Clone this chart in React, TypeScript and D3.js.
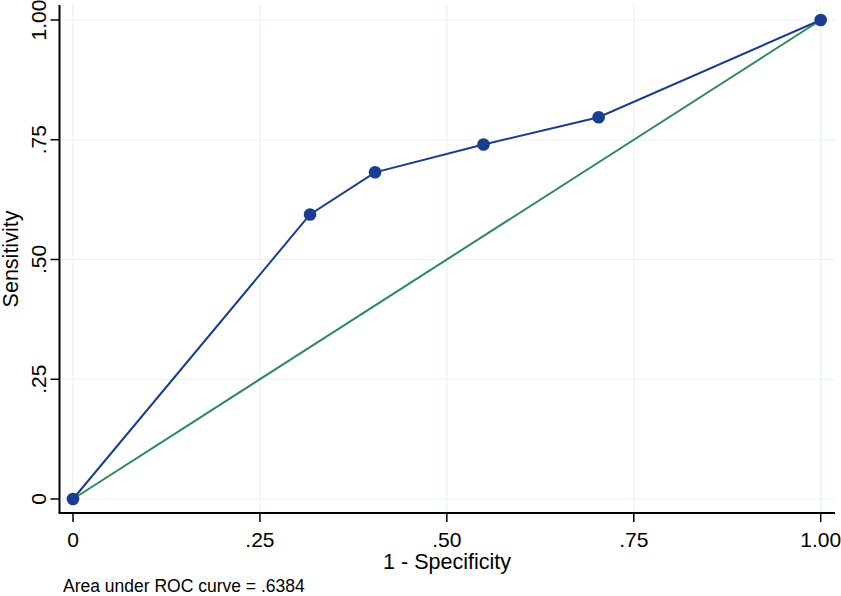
import React from "react";
import * as d3 from "d3";

const fpr: number[] = [0, 0.317, 0.404, 0.549, 0.703, 1];
const tpr: number[] = [0, 0.594, 0.682, 0.74, 0.797, 1];
const xTicks: number[] = [0, 0.25, 0.5, 0.75, 1];
const xTickLabels: string[] = ["0", ".25", ".50", ".75", "1.00"];
const yTicks: number[] = [0, 0.25, 0.5, 0.75, 1];
const yTickLabels: string[] = ["0", ".25", ".50", ".75", "1.00"];
const refLine: number[] = [0, 1];
const xTitle = "1 - Specificity";
const yTitle = "Sensitivity";
const note = "Area under ROC curve = .6384";

const W = 841;
const H = 596;
const BLUE = "#1a3d91";
const GREEN = "#2a8a5c";
const GRID = "#e3f6f1";
const FONT = "Liberation Sans, Arial, sans-serif";

export default function App() {
  const x = d3.scaleLinear().domain([0, 1]).range([73, 820.7]);
  const y = d3.scaleLinear().domain([0, 1]).range([499, 20]);
  const left = 59.5;
  const right = 835;
  const top = 5;
  const bottom = 513;

  const pts: [number, number][] = fpr.map((f, i) => [f, tpr[i]]);
  const line = d3
    .line<[number, number]>()
    .x((d) => x(d[0]))
    .y((d) => y(d[1]));

  return (
    <svg
      width={W}
      height={H}
      style={{ position: "absolute", left: 0, top: 0, background: "#fff" }}
      fontFamily={FONT}
    >
      <rect x={0} y={0} width={W} height={H} fill="#fff" />
      {xTicks.map((t, i) => (
        <line key={"gx" + i} x1={x(t)} x2={x(t)} y1={top} y2={bottom} stroke={GRID} strokeWidth={1.2} />
      ))}
      {yTicks.map((t, i) => (
        <line key={"gy" + i} x1={left} x2={right} y1={y(t)} y2={y(t)} stroke={GRID} strokeWidth={1.2} />
      ))}
      <path
        d={line(refLine.map((v) => [v, v] as [number, number])) || ""}
        fill="none"
        stroke={GREEN}
        strokeWidth={2}
      />
      <path d={line(pts) || ""} fill="none" stroke={BLUE} strokeWidth={2} />
      {pts.map((p, i) => (
        <circle key={"p" + i} cx={x(p[0])} cy={y(p[1])} r={6.3} fill={BLUE} />
      ))}
      <line x1={left} x2={left} y1={top} y2={bottom} stroke="#000" strokeWidth={2} />
      <line x1={left - 1} x2={right} y1={bottom} y2={bottom} stroke="#000" strokeWidth={2} />
      {yTicks.map((t, i) => (
        <g key={"yt" + i}>
          <line x1={left - 9} x2={left} y1={y(t)} y2={y(t)} stroke="#000" strokeWidth={1.5} />
          <text
            transform={`translate(46,${y(t)}) rotate(-90)`}
            textAnchor="middle"
            fontSize={21}
            fill="#000"
          >
            {yTickLabels[i]}
          </text>
        </g>
      ))}
      {xTicks.map((t, i) => (
        <g key={"xt" + i}>
          <line x1={x(t)} x2={x(t)} y1={bottom} y2={bottom + 9} stroke="#000" strokeWidth={1.5} />
          <text x={x(t)} y={547} textAnchor="middle" fontSize={21} fill="#000">
            {xTickLabels[i]}
          </text>
        </g>
      ))}
      <text x={447} y={569} textAnchor="middle" fontSize={21.5} fill="#000">
        {xTitle}
      </text>
      <text transform={`translate(17.5,259) rotate(-90)`} textAnchor="middle" fontSize={21.5} fill="#000">
        {yTitle}
      </text>
      <text x={63} y={592} fontSize={17.5} fill="#000">
        {note}
      </text>
    </svg>
  );
}
